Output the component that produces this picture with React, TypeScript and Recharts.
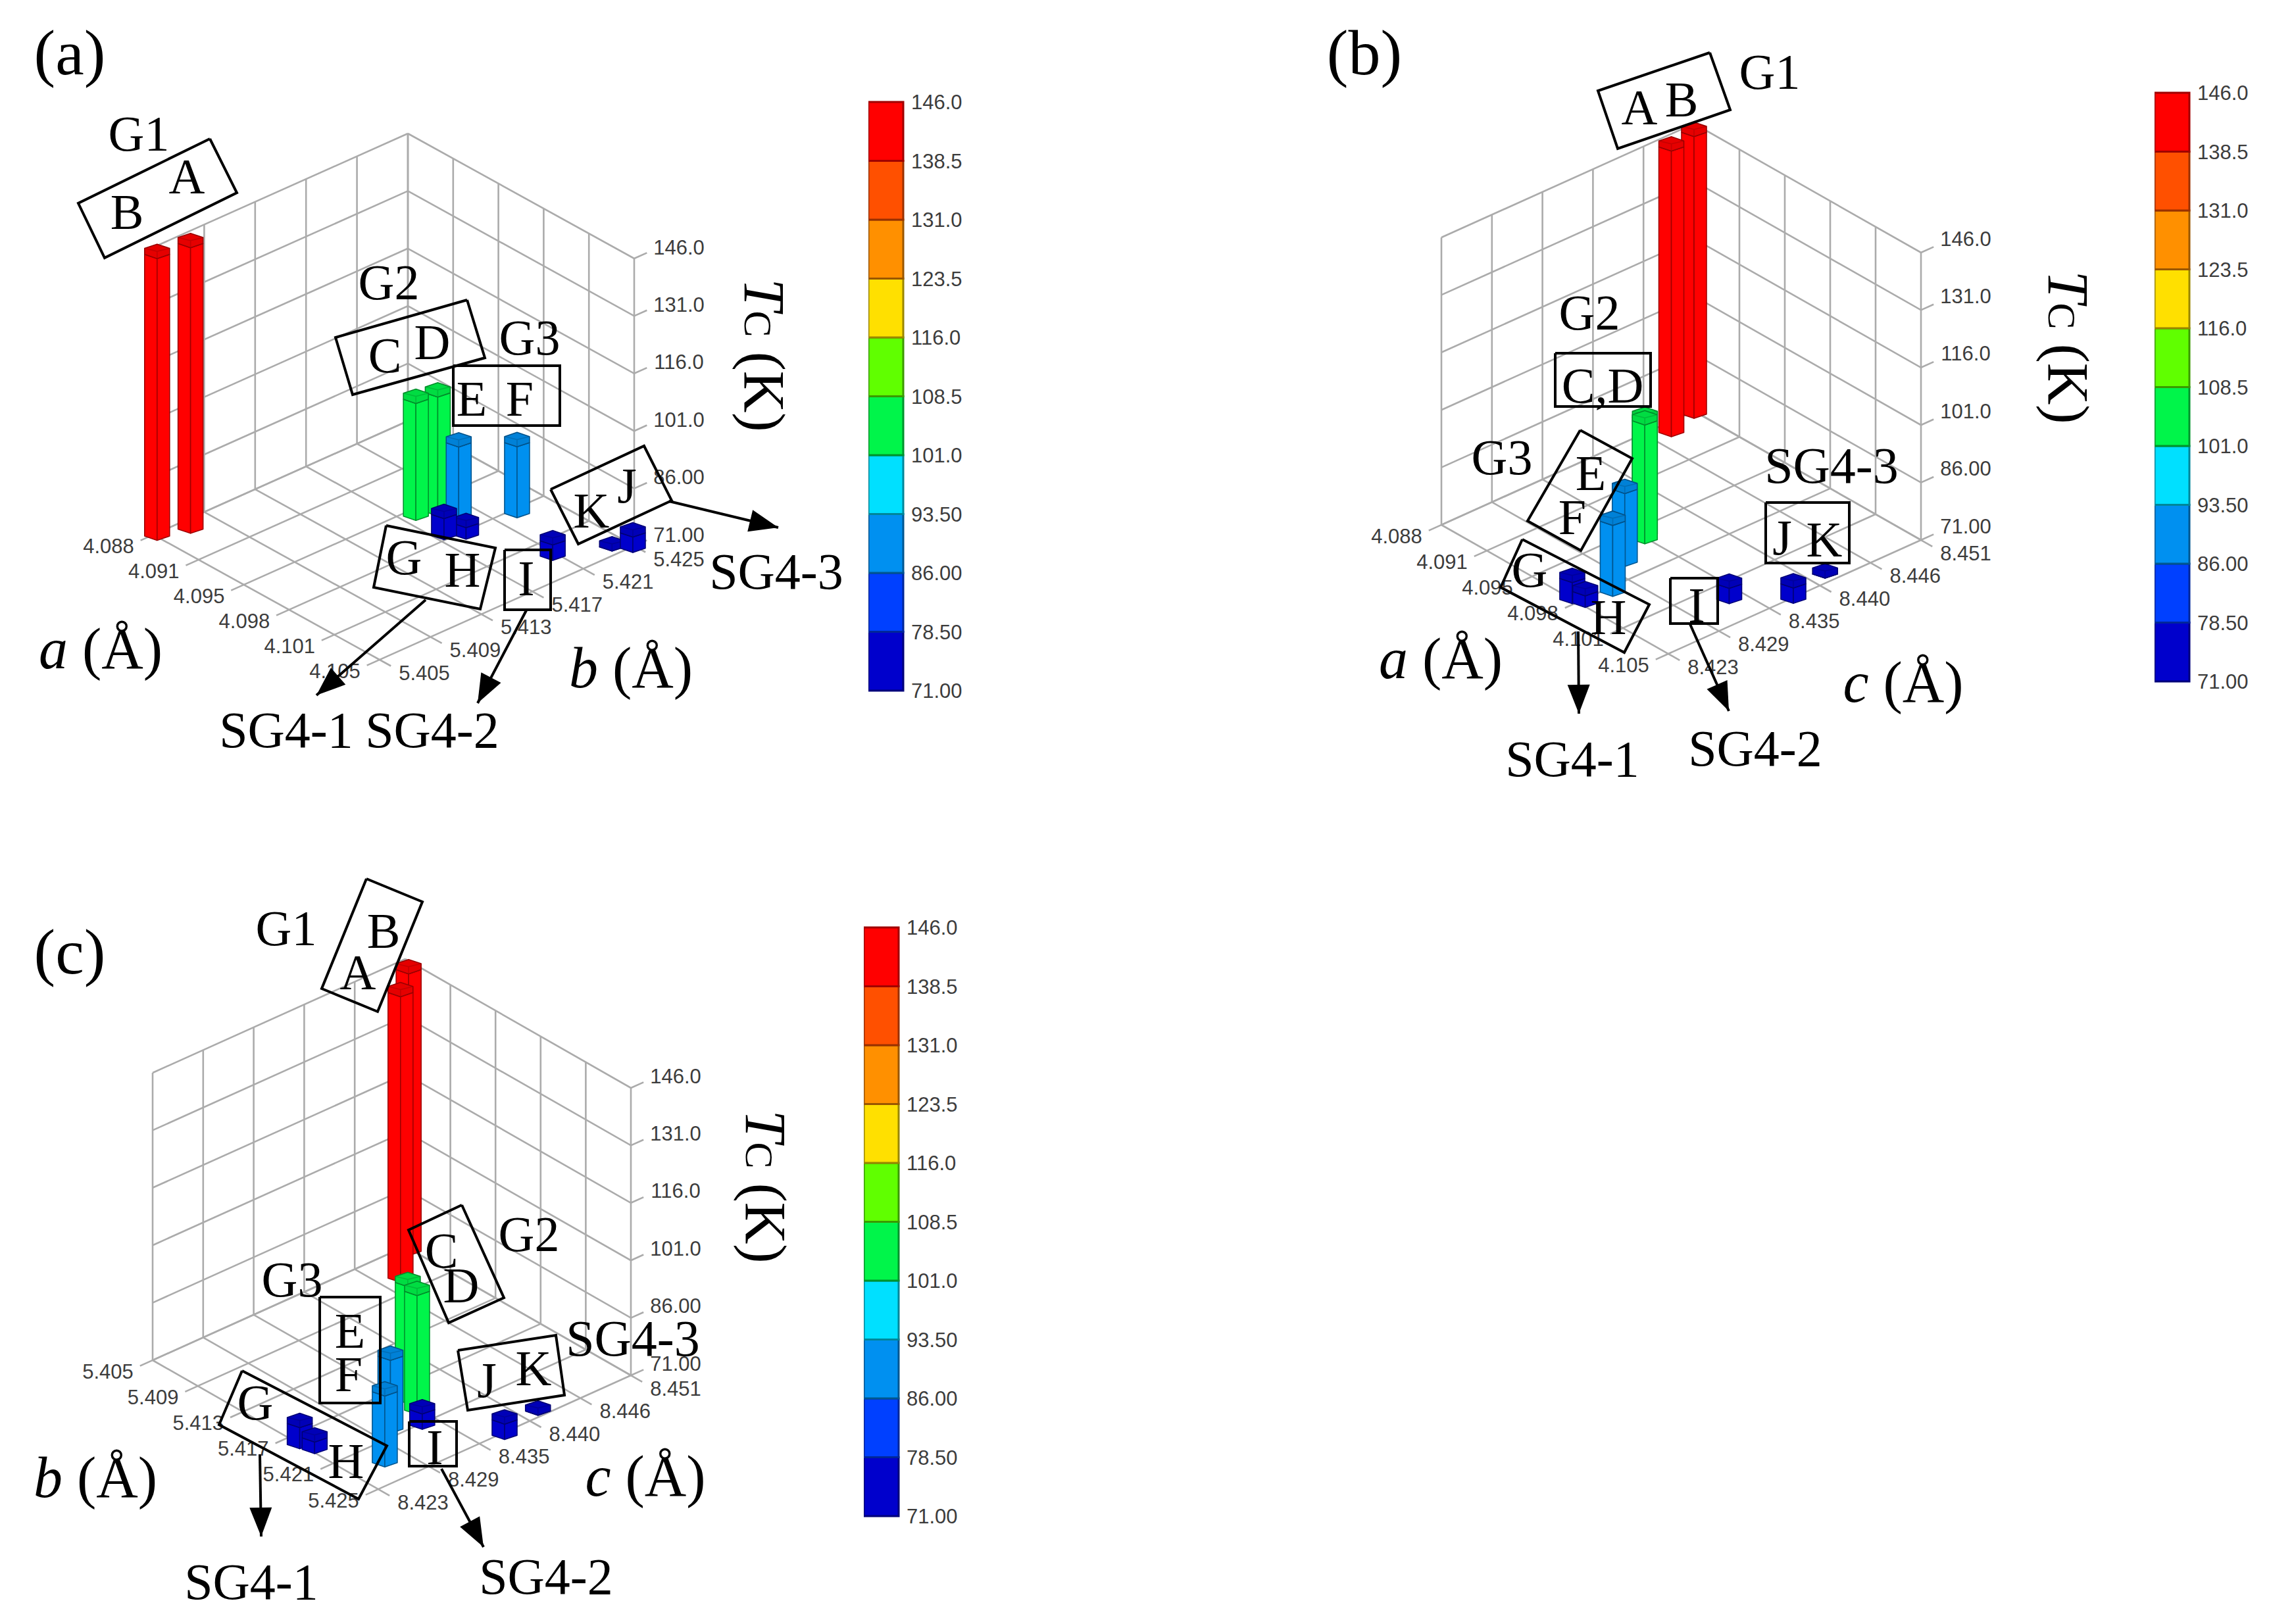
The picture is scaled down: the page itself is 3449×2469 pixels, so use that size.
import React from 'react';
import { BarChart, Bar, ComposedChart, Line, Scatter, XAxis, YAxis } from 'recharts';

const barNames = ['A', 'B', 'C', 'D', 'E', 'F', 'G', 'H', 'I', 'J', 'K'];
const latticeA = [4.0886, 4.088, 4.0952, 4.0956, 4.0966, 4.0984, 4.0976, 4.0983, 4.1028, 4.1049, 4.1041];
const latticeB = [5.4073, 5.4053, 5.4181, 5.4194, 5.42, 5.4227, 5.4178, 5.4188, 5.4209, 5.425, 5.4242];
const latticeC = [8.4476, 8.451, 8.4349, 8.4343, 8.4306, 8.4266, 8.4233, 8.4237, 8.433, 8.437, 8.4417];
const tcValues = [145.5, 144.5, 101.5, 102, 90, 89.5, 76.5, 74, 75, 75, 71];

const aTicks = ['4.088', '4.091', '4.095', '4.098', '4.101', '4.105'];
const bTicks = ['5.405', '5.409', '5.413', '5.417', '5.421', '5.425'];
const cTicks = ['8.423', '8.429', '8.435', '8.440', '8.446', '8.451'];
const tcTicks = [71, 86, 101, 116, 131, 146];

const bandEdges = [71, 78.5, 86, 93.5, 101, 108.5, 116, 123.5, 131, 138.5, 146];
const bandColors = ['#0000cc', '#0040ff', '#0090f0', '#00e0ff', '#00f54a', '#60ff00', '#ffe000', '#ff9000', '#ff5000', '#ff0000'];
const bandStrokes = ['#00007a', '#002699', '#005690', '#008699', '#00932c', '#3a9900', '#998600', '#995600', '#993000', '#a00000'];

const WIDTH = 3449;
const HEIGHT = 2469;
const SERIF = '"Liberation Serif", serif';
const SANS = '"Liberation Sans", sans-serif';
const PX_PER_K = 437 / 75;

const pt = (x: number, y: number) => ({ x, y });

const panels = [
  {
    id: 'a',
    us: latticeA, vs: latticeB, uTicks: aTicks, vTicks: bTicks,
    uRange: [4.088, 4.105], vRange: [5.405, 5.425],
    L: pt(233, 813), F: pt(577, 1003), B: pt(620, 640),
    tcShift: 0,
    colorbar: { x: 1320, y: 155 },
    texts: [
      ['(a)', 106, 80, 98], ['G1', 211, 203], ['A', 284, 268], ['B', 193, 322], ['G2', 591, 429],
      ['C', 585, 540], ['D', 657, 520], ['G3', 805, 513], ['E', 717, 606], ['F', 790, 606],
      ['G', 614, 847], ['H', 703, 866], ['I', 800, 879], ['K', 899, 776], ['J', 953, 738],
      ['SG4-1', 435, 1109, 78], ['SG4-2', 657, 1109, 78], ['SG4-3', 1180, 868, 78],
    ],
    titles: [['a', 153, 986], ['b', 959, 1015]],
    tcTitle: pt(1162, 540),
    boxes: [
      [pt(319, 211), pt(360, 293), pt(159, 392), pt(119, 309)],
      [pt(710, 456), pt(737, 544), pt(536, 600), pt(510, 513)],
      [pt(689, 556), pt(851, 556), pt(851, 647), pt(689, 647)],
      [pt(587, 799), pt(753, 833), pt(730, 926), pt(568, 893)],
      [pt(767, 836), pt(837, 836), pt(837, 927), pt(767, 927)],
      [pt(837, 744), pt(979, 678), pt(1021, 761), pt(879, 827)],
    ],
    arrows: [
      [pt(647, 912), pt(481, 1057)],
      [pt(800, 928), pt(726, 1069)],
      [pt(1017, 762), pt(1183, 802)],
    ],
  },
  {
    id: 'b',
    us: latticeA, vs: latticeC, uTicks: aTicks, vTicks: cTicks,
    uRange: [4.088, 4.105], vRange: [8.423, 8.451],
    L: pt(2191, 798), F: pt(2536, 994), B: pt(2575, 625),
    tcShift: -4,
    colorbar: { x: 3275, y: 141 },
    texts: [
      ['(b)', 2074, 80, 98], ['G1', 2690, 109], ['A', 2492, 163], ['B', 2556, 151], ['G2', 2416, 475],
      ['C,D', 2436, 586], ['G3', 2283, 695], ['E', 2418, 719], ['F', 2390, 786], ['G', 2325, 866],
      ['H', 2445, 938], ['I', 2579, 920], ['J', 2709, 817], ['K', 2773, 820],
      ['SG4-3', 2784, 707, 78], ['SG4-1', 2390, 1153, 78], ['SG4-2', 2668, 1137, 78],
    ],
    titles: [['a', 2190, 1001], ['c', 2893, 1037]],
    tcTitle: pt(3144, 528),
    boxes: [
      [pt(2599, 80), pt(2630, 167), pt(2459, 226), pt(2429, 138)],
      [pt(2364, 537), pt(2509, 537), pt(2509, 618), pt(2364, 618)],
      [pt(2402, 654), pt(2481, 697), pt(2403, 837), pt(2322, 792)],
      [pt(2314, 820), pt(2507, 919), pt(2469, 992), pt(2281, 893)],
      [pt(2539, 879), pt(2611, 879), pt(2611, 948), pt(2539, 948)],
      [pt(2684, 764), pt(2811, 764), pt(2811, 856), pt(2684, 856)],
    ],
    arrows: [
      [pt(2399, 960), pt(2400, 1085)],
      [pt(2569, 949), pt(2628, 1081)],
    ],
  },
  {
    id: 'c',
    us: latticeB, vs: latticeC, uTicks: bTicks, vTicks: cTicks,
    uRange: [5.405, 5.425], vRange: [8.423, 8.451],
    L: pt(232, 2068), F: pt(575, 2264), B: pt(616, 1895),
    tcShift: -1,
    colorbar: { x: 1313, y: 1410 },
    texts: [
      ['(c)', 106, 1447, 98], ['G1', 435, 1411], ['B', 583, 1415], ['A', 544, 1478], ['G2', 804, 1876],
      ['C', 671, 1901], ['D', 701, 1954], ['G3', 444, 1945], ['E', 532, 2023], ['F', 530, 2089],
      ['G', 388, 2132], ['H', 526, 2221], ['I', 661, 2200], ['J', 740, 2098], ['K', 811, 2080],
      ['SG4-1', 382, 2404, 78], ['SG4-2', 830, 2396, 78], ['SG4-3', 962, 2034, 78],
    ],
    titles: [['b', 145, 2246], ['c', 981, 2244]],
    tcTitle: pt(1164, 1804),
    boxes: [
      [pt(557, 1336), pt(642, 1371), pt(574, 1538), pt(489, 1503)],
      [pt(702, 1832), pt(766, 1973), pt(682, 2011), pt(621, 1870)],
      [pt(486, 1972), pt(578, 1972), pt(578, 2133), pt(486, 2133)],
      [pt(368, 2084), pt(588, 2198), pt(545, 2279), pt(333, 2166)],
      [pt(622, 2161), pt(694, 2161), pt(694, 2229), pt(622, 2229)],
      [pt(696, 2053), pt(845, 2030), pt(858, 2121), pt(711, 2144)],
    ],
    arrows: [
      [pt(395, 2211), pt(397, 2336)],
      [pt(671, 2233), pt(735, 2352)],
    ],
  },
];

type Panel = (typeof panels)[number];

// floor position for fractions along the two lattice axes, lifted by the Tc value
function project(p: Panel, s: number, t: number, tc = 71) {
  return pt(
    p.L.x + s * (p.F.x - p.L.x) + t * (p.B.x - p.L.x),
    p.L.y + s * (p.F.y - p.L.y) + t * (p.B.y - p.L.y) - (tc - 71) * PX_PER_K,
  );
}

function gridSegments(p: Panel) {
  const segs: { x: number; y: number }[][] = [];
  const fracs = [0, 0.2, 0.4, 0.6, 0.8, 1];
  fracs.forEach((f) => {
    segs.push([project(p, f, -0.05), project(p, f, 1)]);
    segs.push([project(p, 0, f), project(p, 1.05, f)]);
    segs.push([project(p, 0, f, 71), project(p, 0, f, 146)]);
    segs.push([project(p, f, 1, 71), project(p, f, 1, 146)]);
  });
  tcTicks.forEach((tc) => {
    segs.push([project(p, 0, 0, tc), project(p, 0, 1, tc)]);
    segs.push([project(p, 0, 1, tc), project(p, 1, 1, tc), project(p, 1, 1.05, tc)]);
  });
  return segs;
}

function barPoints(p: Panel) {
  const items = barNames.map((name, i) => {
    const s = (p.us[i] - p.uRange[0]) / (p.uRange[1] - p.uRange[0]);
    const t = (p.vs[i] - p.vRange[0]) / (p.vRange[1] - p.vRange[0]);
    const band = bandEdges.findIndex((e, k) => tcValues[i] >= e && tcValues[i] < bandEdges[k + 1]);
    return { ...project(p, s, t), name, rise: (tcValues[i] - 71) * PX_PER_K, band };
  });
  // back bars first so the nearer ones cover them
  return items.sort((m, n) => m.y - n.y);
}

function tickLabels(p: Panel) {
  const out: { x: number; y: number; text: string }[] = [];
  p.uTicks.forEach((text, i) => {
    const q = project(p, i / 5, 0);
    out.push({ x: q.x - 68, y: q.y + 17, text });
  });
  p.vTicks.forEach((text, i) => {
    const q = project(p, 1, i / 5);
    out.push({ x: q.x + 68, y: q.y + 20, text });
  });
  tcTicks.forEach((tc) => {
    const q = project(p, 1, 1, tc);
    out.push({ x: q.x + 68, y: q.y - 17 + p.tcShift, text: tc.toPrecision(4) });
  });
  return out;
}

const Prism = ({ cx, cy, payload }: any) => {
  const w = 19;
  const h = 11;
  const k = h * 0.42;
  const top = cy - payload.rise;
  const fill = bandColors[payload.band];
  const stroke = bandStrokes[payload.band];
  const poly = (a: number[][]) => a.map((q) => `${cx + q[0]},${q[1]}`).join(' ');
  const hex = poly([[0, top - h], [w, top - k], [w, top + k], [0, top + h], [-w, top + k], [-w, top - k]]);
  return (
    <g stroke={stroke} strokeWidth={1.6} strokeLinejoin="round">
      <polygon fill={fill} points={poly([[-w, top + k], [0, top + h], [0, cy + h], [-w, cy + k]])} />
      <polygon fill={fill} points={poly([[w, top + k], [0, top + h], [0, cy + h], [w, cy + k]])} />
      <polygon fill={fill} points={hex} />
      <polygon fill="#000" fillOpacity={0.1} stroke="none" points={hex} />
      <path fill="none" d={`M${cx - w},${top - k}L${cx},${top}L${cx + w},${top - k}M${cx},${top}L${cx},${top + h}`} strokeOpacity={0.45} />
    </g>
  );
};

const TickText = ({ cx, cy, payload }: any) => (
  <text x={cx} y={cy} fontFamily={SANS} fontSize={31} fill="#3c3c3c" textAnchor="middle" dominantBaseline="central">
    {payload.text}
  </text>
);

const SerifText = ({ cx, cy, payload }: any) => (
  <text x={cx} y={cy} fontFamily={SERIF} fontSize={payload.size || 76} fill="#000" textAnchor="middle" dominantBaseline="central">
    {payload.text}
  </text>
);

const TitleText = ({ cx, cy, payload }: any) => (
  <text x={cx} y={cy} fontFamily={SERIF} fontSize={88} fill="#000" textAnchor="middle" dominantBaseline="central">
    <tspan fontStyle="italic">{payload.text}</tspan> (Å)
  </text>
);

const TcTitle = ({ cx, cy }: any) => (
  <text x={cx} y={cy} fontFamily={SERIF} fontSize={88} fill="#000" textAnchor="middle" dominantBaseline="central" transform={`rotate(90 ${cx} ${cy})`}>
    <tspan fontStyle="italic">T</tspan>
    <tspan fontSize={60} dy={10}>C</tspan>
    <tspan dy={-10}> (K)</tspan>
  </text>
);

const NoDot = () => <g />;

const ArrowHead = ({ cx, cy, payload }: any) => {
  if (!payload.angle && payload.angle !== 0) return <g />;
  return (
    <polygon
      points="0,0 -44,-17 -44,17"
      fill="#000"
      transform={`translate(${cx} ${cy}) rotate(${payload.angle})`}
    />
  );
};

function arrowData(seg: { x: number; y: number }[]) {
  const [from, to] = seg;
  const screenAngle = (Math.atan2(to.y - from.y, to.x - from.x) * 180) / Math.PI;
  return [from, { ...to, angle: screenAngle }];
}

const Colorbar = ({ x, y }: { x: number; y: number }) => {
  const row: Record<string, number | string> = { name: 'Tc' };
  const ticks = [0];
  bandColors.forEach((_, i) => {
    row[`band${i}`] = bandEdges[i + 1] - bandEdges[i];
    ticks.push(bandEdges[i + 1] - bandEdges[0]);
  });
  return (
    <div style={{ position: 'absolute', left: x, top: y - 30 }}>
      <BarChart width={157} height={955} data={[row]} margin={{ top: 30, bottom: 30, left: 0, right: 0 }} barCategoryGap={0}>
        <XAxis dataKey="name" hide />
        <YAxis
          orientation="right"
          type="number"
          width={104}
          domain={[0, 75]}
          ticks={ticks}
          interval={0}
          axisLine={false}
          tickLine={false}
          tickMargin={6}
          tick={{ fontSize: 31, fontFamily: SANS, fill: '#3c3c3c' }}
          tickFormatter={(v: number) => (v + bandEdges[0]).toPrecision(4)}
        />
        {bandColors.map((color, i) => (
          <Bar key={i} dataKey={`band${i}`} stackId="tc" fill={color} stroke={bandStrokes[i]} strokeWidth={3} isAnimationActive={false} />
        ))}
      </BarChart>
    </div>
  );
};

export default function App() {
  return (
    <div style={{ position: 'absolute', left: 0, top: 0, width: WIDTH, height: HEIGHT, background: '#fff' }}>
      <ComposedChart width={WIDTH} height={HEIGHT} margin={{ top: 0, right: 0, bottom: 0, left: 0 }}>
        <XAxis type="number" dataKey="x" domain={[0, WIDTH]} allowDataOverflow hide />
        <YAxis type="number" dataKey="y" domain={[0, HEIGHT]} reversed allowDataOverflow hide />
        {panels.flatMap((p) =>
          gridSegments(p).map((seg, i) => (
            <Line
              key={`grid-${p.id}-${i}`}
              data={seg}
              dataKey="y"
              stroke="#ababab"
              strokeWidth={2.6}
              dot={false}
              activeDot={false}
              legendType="none"
              isAnimationActive={false}
            />
          )),
        )}
        {panels.map((p) => (
          <Scatter key={`ticks-${p.id}`} data={tickLabels(p)} shape={TickText} isAnimationActive={false} />
        ))}
        {panels.map((p) => (
          <Scatter key={`bars-${p.id}`} data={barPoints(p)} shape={Prism} isAnimationActive={false} />
        ))}
        {panels.flatMap((p) =>
          p.boxes.map((box, i) => (
            <Scatter
              key={`box-${p.id}-${i}`}
              data={[...box, box[0]]}
              line={{ stroke: '#000', strokeWidth: 4 }}
              shape={NoDot}
              isAnimationActive={false}
            />
          )),
        )}
        {panels.flatMap((p) =>
          p.arrows.map((seg, i) => (
            <Scatter
              key={`arrow-${p.id}-${i}`}
              data={arrowData(seg)}
              line={{ stroke: '#000', strokeWidth: 4 }}
              shape={ArrowHead}
              isAnimationActive={false}
            />
          )),
        )}
        {panels.map((p) => (
          <Scatter
            key={`text-${p.id}`}
            data={p.texts.map(([text, x, y, size]) => ({ text, x, y, size }))}
            shape={SerifText}
            isAnimationActive={false}
          />
        ))}
        {panels.map((p) => (
          <Scatter
            key={`title-${p.id}`}
            data={p.titles.map(([text, x, y]) => ({ text, x, y }))}
            shape={TitleText}
            isAnimationActive={false}
          />
        ))}
        {panels.map((p) => (
          <Scatter key={`tc-${p.id}`} data={[p.tcTitle]} shape={TcTitle} isAnimationActive={false} />
        ))}
      </ComposedChart>
      {panels.map((p) => (
        <Colorbar key={p.id} x={p.colorbar.x} y={p.colorbar.y} />
      ))}
    </div>
  );
}
